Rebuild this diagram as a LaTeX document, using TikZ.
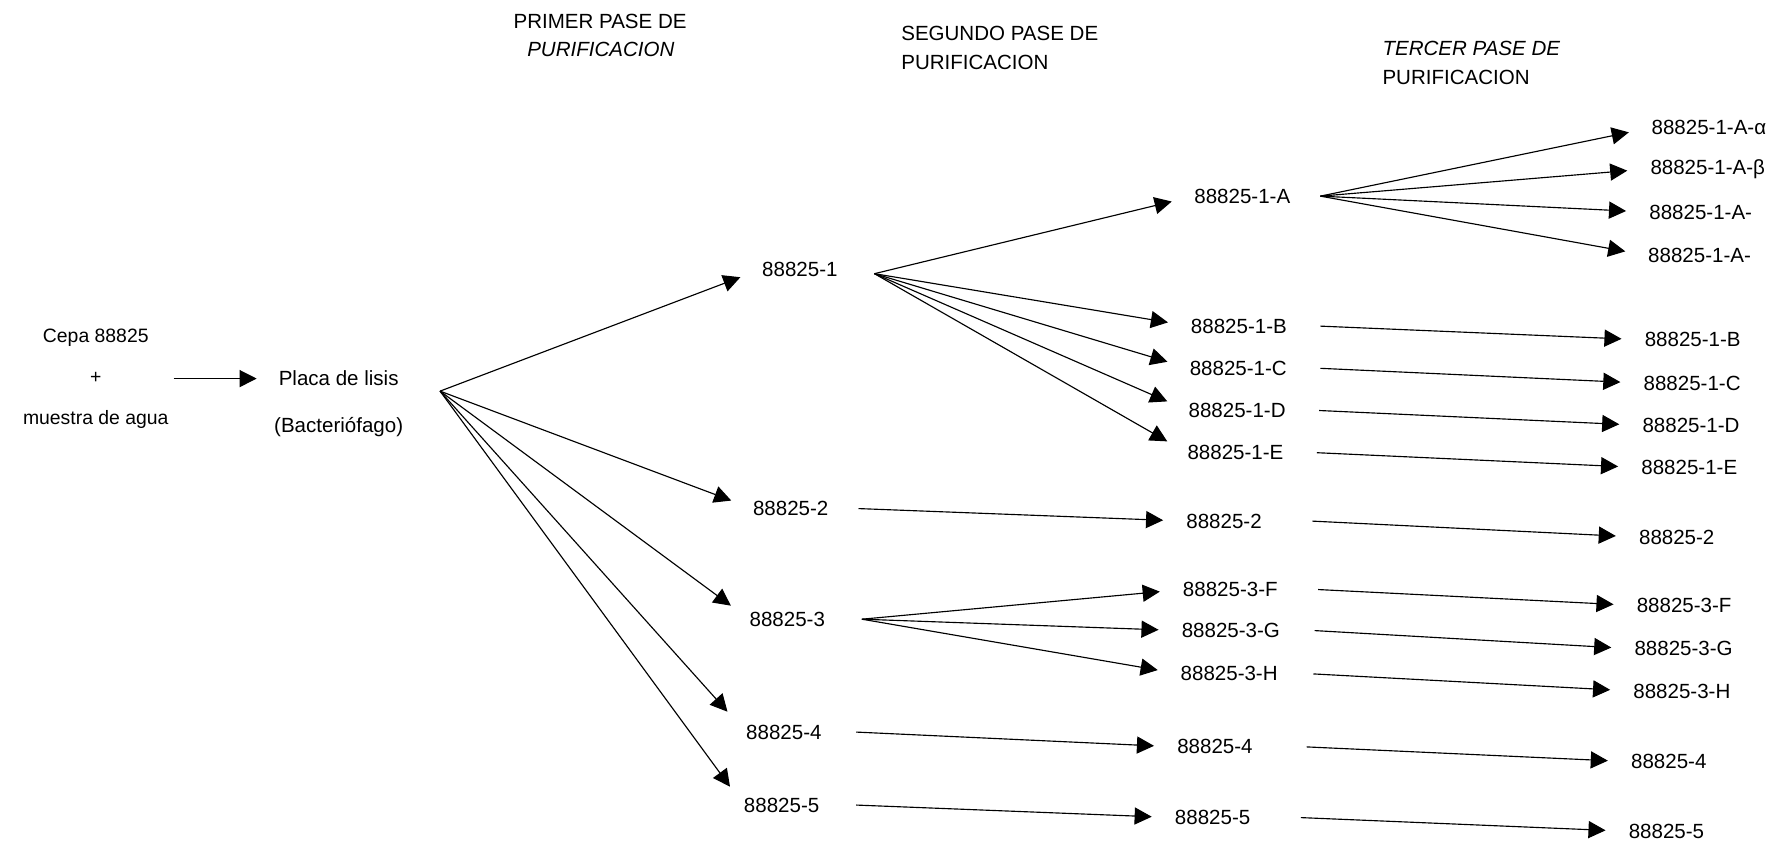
\documentclass[tikz,border=0pt]{standalone}
\usepackage{fontspec}
\setmainfont{Liberation Sans}
\usetikzlibrary{arrows.meta}

\begin{document}
\begin{tikzpicture}[x=0.5pt,y=-0.5pt,
  lbl/.style={anchor=west,inner xsep=0pt,inner ysep=2pt,
    font=\fontsize{9}{11}\selectfont},
  hdr/.style={anchor=west,align=left,inner sep=0pt,
    font=\fontsize{9}{12.5}\selectfont},
  flow/.style={-{Triangle[length=7.5pt,width=7.5pt]},line width=0.5pt,
    shorten >=10pt}
]
  \useasboundingbox (0,0) rectangle (1568,739);

  % headings
  \node[hdr] (h1) at (450,31) {PRIMER PASE DE\\\hspace{6pt}\textit{PURIFICACION}};
  \node[hdr] (h2) at (790,42) {SEGUNDO PASE DE\\PURIFICACION};
  \node[hdr] (h3) at (1212,55) {\textit{TERCER PASE DE}\\PURIFICACION};

  % start
  \node[lbl,anchor=center,align=center,font=\fontsize{8.5}{18}\selectfont]
    (cepa) at (84,332) {Cepa 88825\\+\\muestra de agua};
  \node[lbl,anchor=center,align=center,font=\fontsize{9}{20.5}\selectfont]
    (placa) at (297,354) {Placa de lisis\\(Bacteriófago)};

  % first pass
  \node[lbl] (p1) at (668,236) {88825-1};
  \node[lbl] (p2) at (660,446) {88825-2};
  \node[lbl] (p3) at (657,543) {88825-3};
  \node[lbl] (p4) at (654,642) {88825-4};
  \node[lbl] (p5) at (652,706) {88825-5};

  % second pass
  \node[lbl] (s1a) at (1047,172) {88825-1-A};
  \node[lbl] (s1b) at (1044,286) {88825-1-B};
  \node[lbl] (s1c) at (1043,323) {88825-1-C};
  \node[lbl] (s1d) at (1042,360) {88825-1-D};
  \node[lbl] (s1e) at (1041,397) {88825-1-E};
  \node[lbl] (s2) at (1040,457) {88825-2};
  \node[lbl] (s3f) at (1037,517) {88825-3-F};
  \node[lbl] (s3g) at (1036,553) {88825-3-G};
  \node[lbl] (s3h) at (1035,591) {88825-3-H};
  \node[lbl] (s4) at (1032,655) {88825-4};
  \node[lbl] (s5) at (1030,717) {88825-5};

  % third pass
  \node[lbl] (t1aa) at (1448,112) {88825-1-A-α};
  \node[lbl] (t1ab) at (1447,148) {88825-1-A-β};
  \node[lbl] (t1ac) at (1446,186) {88825-1-A-};
  \node[lbl] (t1ad) at (1445,224) {88825-1-A-};
  \node[lbl] (t1b) at (1442,298) {88825-1-B};
  \node[lbl] (t1c) at (1441,336) {88825-1-C};
  \node[lbl] (t1d) at (1440,373) {88825-1-D};
  \node[lbl] (t1e) at (1439,410) {88825-1-E};
  \node[lbl] (t2) at (1437,471) {88825-2};
  \node[lbl] (t3f) at (1435,531) {88825-3-F};
  \node[lbl] (t3g) at (1433,569) {88825-3-G};
  \node[lbl] (t3h) at (1432,606) {88825-3-H};
  \node[lbl] (t4) at (1430,668) {88825-4};
  \node[lbl] (t5) at (1428,729) {88825-5};

  % arrows
  \draw[flow,shorten >=7.5pt] ([xshift=2pt]cepa.east) -- (cepa.east -| placa.west);

  \draw[flow] ([xshift=16pt,yshift=5.5pt]placa.east) -- (p1.west);
  \draw[flow] ([xshift=16pt,yshift=5.5pt]placa.east) -- (p2.west);
  \draw[flow] ([xshift=16pt,yshift=5.5pt]placa.east) -- (p3.west);
  \draw[flow,shorten >=12pt] ([xshift=16pt,yshift=5.5pt]placa.east) -- (p4.west);
  \draw[flow] ([xshift=16pt,yshift=5.5pt]placa.east) -- (p5.west);

  \draw[flow] ([xshift=16pt,yshift=-2pt]p1.east) -- (s1a.west);
  \draw[flow] ([xshift=16pt,yshift=-2pt]p1.east) -- (s1b.west);
  \draw[flow] ([xshift=16pt,yshift=-2pt]p1.east) -- (s1c.west);
  \draw[flow] ([xshift=16pt,yshift=-2pt]p1.east) -- (s1d.west);
  \draw[flow] ([xshift=16pt,yshift=-2pt]p1.east) -- (s1e.west);
  \draw[flow] ([xshift=13pt]p2.east) -- (s2.west);
  \draw[flow] ([xshift=16pt]p3.east) -- (s3f.west);
  \draw[flow] ([xshift=16pt]p3.east) -- (s3g.west);
  \draw[flow] ([xshift=16pt]p3.east) -- (s3h.west);
  \draw[flow] ([xshift=15pt]p4.east) -- (s4.west);
  \draw[flow] ([xshift=16pt]p5.east) -- (s5.west);

  \draw[flow] ([xshift=13pt]s1a.east) -- (t1aa.west);
  \draw[flow] ([xshift=13pt]s1a.east) -- (t1ab.west);
  \draw[flow] ([xshift=13pt]s1a.east) -- (t1ac.west);
  \draw[flow] ([xshift=13pt]s1a.east) -- (t1ad.west);
  \draw[flow] ([xshift=14.5pt]s1b.east) -- (t1b.west);
  \draw[flow] ([xshift=14.5pt]s1c.east) -- (t1c.west);
  \draw[flow] ([xshift=14.5pt]s1d.east) -- (t1d.west);
  \draw[flow] ([xshift=14.5pt]s1e.east) -- (t1e.west);
  \draw[flow] ([xshift=22pt]s2.east) -- (t2.west);
  \draw[flow] ([xshift=17.5pt]s3f.east) -- (t3f.west);
  \draw[flow] ([xshift=15pt]s3g.east) -- (t3g.west);
  \draw[flow] ([xshift=15.5pt]s3h.east) -- (t3h.west);
  \draw[flow] ([xshift=23.5pt]s4.east) -- (t4.west);
  \draw[flow] ([xshift=22pt]s5.east) -- (t5.west);
\end{tikzpicture}
\end{document}
